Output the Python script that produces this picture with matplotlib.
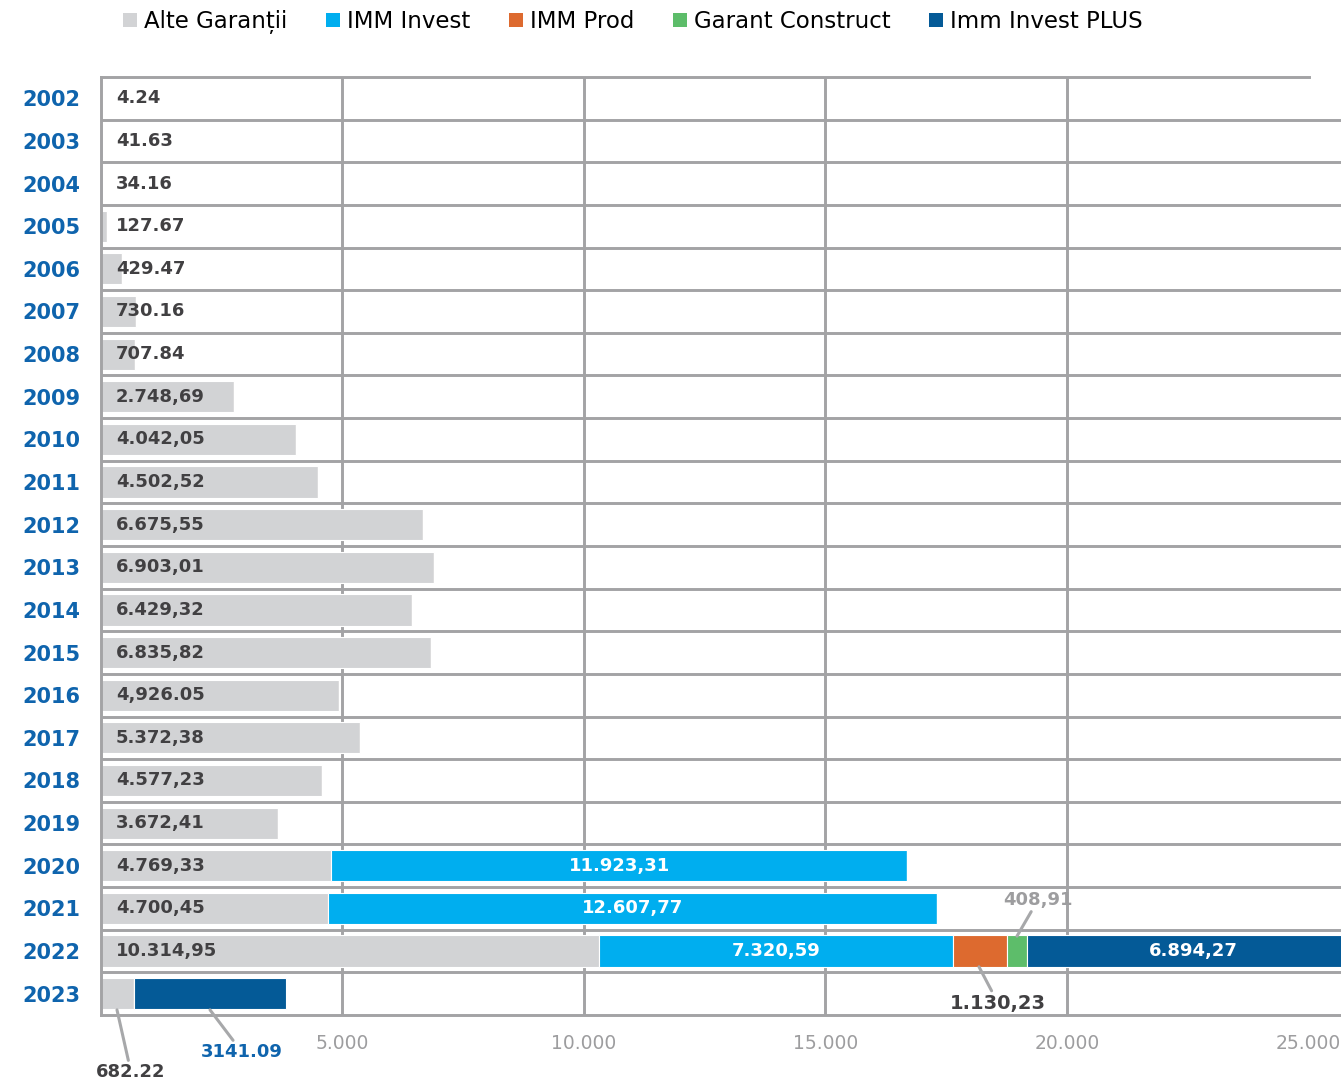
import numpy as np
import matplotlib.pyplot as plt
from matplotlib.patches import Patch

plt.rcParams['font.family'] = ['DejaVu Sans']

years = [str(y) for y in range(2002, 2024)]
alte = [4.24, 41.63, 34.16, 127.67, 429.47, 730.16, 707.84, 2748.69, 4042.05,
        4502.52, 6675.55, 6903.01, 6429.32, 6835.82, 4926.05, 5372.38, 4577.23,
        3672.41, 4769.33, 4700.45, 10314.95, 682.22]
alte_labels = ["4.24", "41.63", "34.16", "127.67", "429.47", "730.16", "707.84",
               "2.748,69", "4.042,05", "4.502,52", "6.675,55", "6.903,01",
               "6.429,32", "6.835,82", "4,926.05", "5.372,38", "4.577,23",
               "3.672,41", "4.769,33", "4.700,45", "10.314,95", ""]
imm_invest = [0] * 18 + [11923.31, 12607.77, 7320.59, 0]
imm_invest_labels = [""] * 18 + ["11.923,31", "12.607,77", "7.320,59", ""]
imm_prod = [0] * 20 + [1130.23, 0]
garant = [0] * 20 + [408.91, 0]
plus = [0] * 20 + [6894.27, 3141.09]
plus_labels = [""] * 20 + ["6.894,27", ""]

series = ["Alte Garanții", "IMM Invest", "IMM Prod", "Garant Construct", "Imm Invest PLUS"]
colors = ["#d2d3d5", "#00aeef", "#dd6a2f", "#5dbd6a", "#045a97"]

grid_c = "#a3a3a5"
dark = "#414042"
blue = "#0f64ad"

fig = plt.figure(figsize=(13.41, 10.81), dpi=100)
ax = fig.add_axes([101 / 1341, 1 - 1015 / 1081, 1 - 101 / 1341, (1015 - 77) / 1081])

y = np.arange(len(years))
xmax = 1240 / 48.3 * 1000
ax.set_xlim(0, xmax)
ax.set_ylim(len(years) - 0.5, -0.5)

# grid
for xv in [5000, 10000, 15000, 20000]:
    ax.axvline(xv, color=grid_c, lw=2.1, zorder=0)
for yv in np.arange(0.5, len(years) - 0.5, 1):
    ax.axhline(yv, color=grid_c, lw=2.1, zorder=0)
ax.axhline(-0.5, xmax=25000 / xmax, color=grid_c, lw=2.1, zorder=4, clip_on=False)
ax.axhline(len(years) - 0.5, color=grid_c, lw=2.1, zorder=4, clip_on=False)
ax.axvline(0, color=grid_c, lw=2.1, zorder=4, clip_on=False)
for s in ax.spines.values():
    s.set_visible(False)

h = 0.73
left = np.zeros(len(years))
for vals, col in zip([alte, imm_invest, imm_prod, garant, plus], colors):
    vals = np.array(vals)
    ax.barh(y, vals, left=left, height=h, color=col, edgecolor="white", lw=0.8, zorder=2)
    left = left + vals

# value labels
for i, lab in enumerate(alte_labels):
    if lab:
        ax.text(310, i, lab, ha="left", va="center", fontsize=13, fontweight="bold",
                color=dark, zorder=5)
for i, lab in enumerate(imm_invest_labels):
    if lab:
        ax.text(alte[i] + imm_invest[i] / 2, i, lab, ha="center", va="center",
                fontsize=13, fontweight="bold", color="white", zorder=5)
for i, lab in enumerate(plus_labels):
    if lab:
        start = alte[i] + imm_invest[i] + imm_prod[i] + garant[i]
        ax.text(start + plus[i] / 2, i, lab, ha="center", va="center",
                fontsize=13, fontweight="bold", color="white", zorder=5)

arrow = dict(arrowstyle="-", color="#a7a8aa", lw=2.2, shrinkA=0, shrinkB=0)
ax.annotate("408,91", xy=(18965, 19.65), xytext=(19400, 18.8), ha="center", va="center",
            fontsize=13, fontweight="bold", color="#9d9d9f", arrowprops=arrow, zorder=5)
ax.annotate("1.130,23", xy=(18178, 20.37), xytext=(18572, 21.22), ha="center", va="center",
            fontsize=14, fontweight="bold", color=dark, arrowprops=arrow, zorder=5)
ax.annotate("682.22", xy=(331, 21.38), xytext=(621, 22.84), ha="center", va="center",
            fontsize=13, fontweight="bold", color=dark, arrowprops=arrow, zorder=5,
            annotation_clip=False)
ax.annotate("3141.09", xy=(2257, 21.38), xytext=(2919, 22.37), ha="center", va="center",
            fontsize=13, fontweight="bold", color=blue, arrowprops=arrow, zorder=5,
            annotation_clip=False)

ax.set_yticks(y)
ax.set_yticklabels(years, fontsize=15, fontweight="bold", color=blue)
ax.set_xticks([5000, 10000, 15000, 20000, 25000])
ax.set_xticklabels(["5.000", "10.000", "15.000", "20.000", "25.000"], fontsize=13.5,
                   color="#9d9d9f")
ax.tick_params(axis="both", length=0)
ax.tick_params(axis="x", pad=14)
ax.tick_params(axis="y", pad=15)

handles = [Patch(facecolor=c, edgecolor="none") for c in colors]
fig.legend(handles, series, loc="center", bbox_to_anchor=(633 / 1341, 1 - 22 / 1081),
           ncol=5, frameon=False, fontsize=16.5, handlelength=0.6, handleheight=0.6,
           handletextpad=0.3, columnspacing=1.7, borderaxespad=0)

fig.savefig("out.png", dpi=100)
